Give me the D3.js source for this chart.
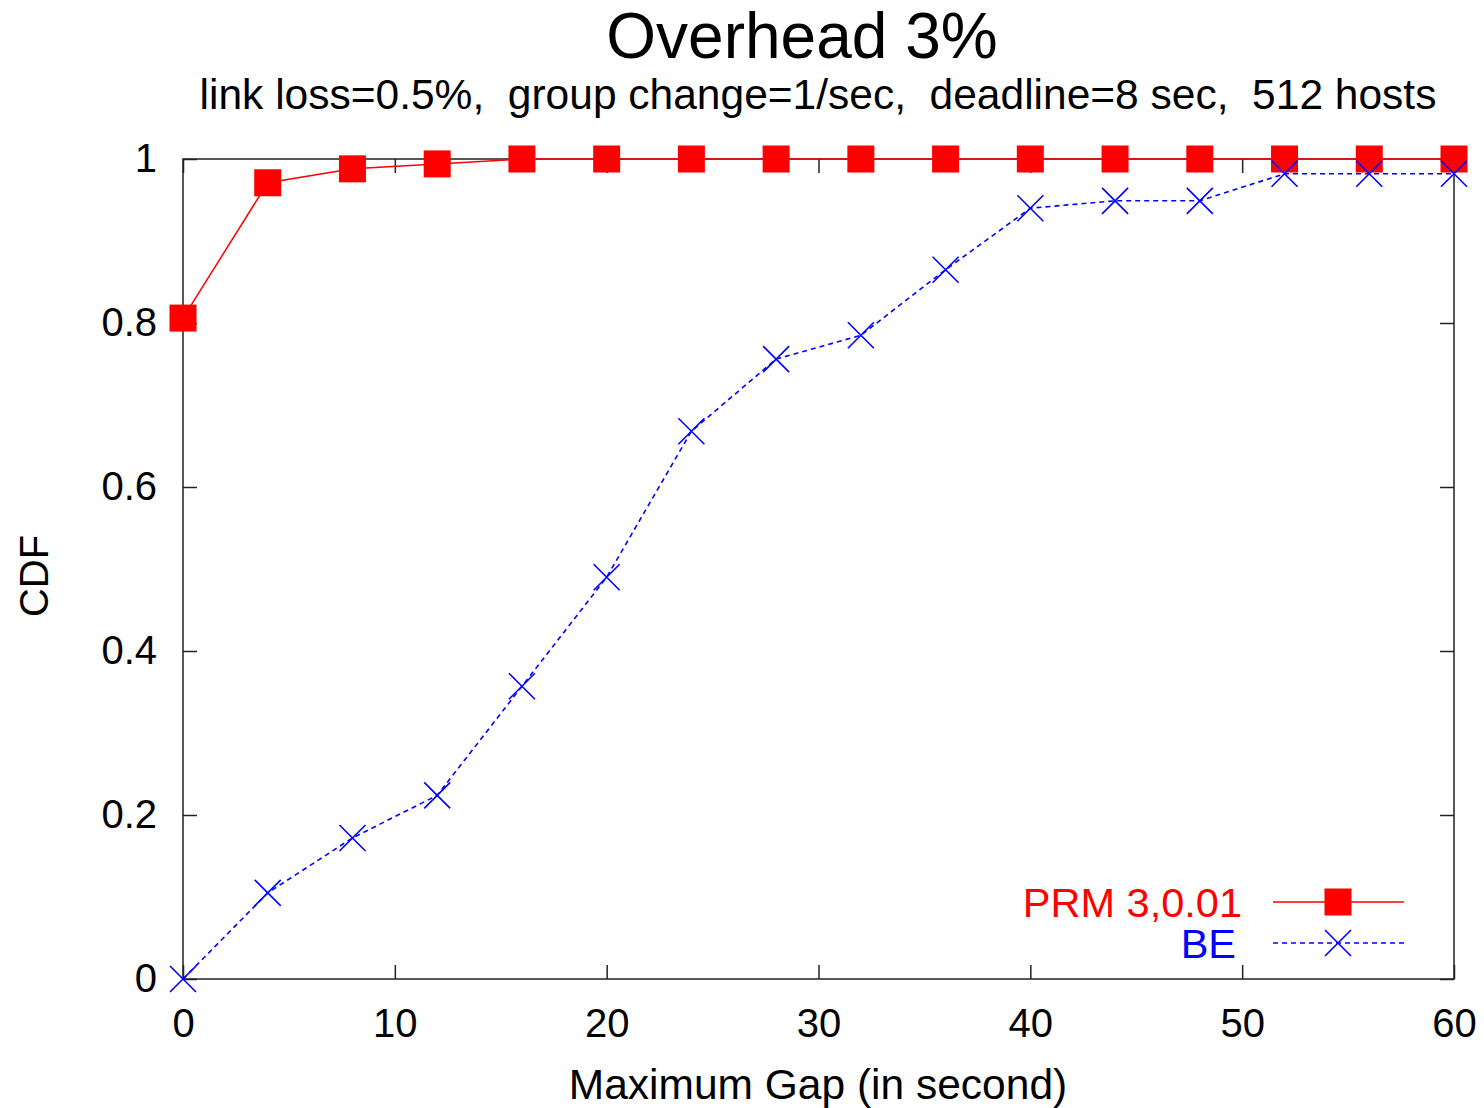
<!DOCTYPE html>
<html>
<head>
<meta charset="utf-8">
<script src="https://cdn.jsdelivr.net/npm/d3@7"></script>
<style>
  body { margin: 0; background: #fff; }
  text { font-family: "Liberation Sans", Arial, sans-serif; }
</style>
</head>
<body>
<div id="chart"></div>
<script>
let width = 1484;
let height = 1108;
let margin = { top: 159, bottom: 129, left: 183, right: 30 };

// chart data
const gapValues = [0, 4, 8, 12, 16, 20, 24, 28, 32, 36, 40, 44, 48, 52, 56, 60];
const prmValues = [0.806, 0.971, 0.988, 0.994, 1, 1, 1, 1, 1, 1, 1, 1, 1, 1, 1, 1];
const beValues = [0, 0.105, 0.172, 0.224, 0.357, 0.49, 0.668, 0.756, 0.785, 0.865, 0.94, 0.949, 0.949, 0.982, 0.982, 0.982];
const xTicks = [0, 10, 20, 30, 40, 50, 60];
const yTicks = [0, 0.2, 0.4, 0.6, 0.8, 1];
const yTickLabels = ["0", "0.2", "0.4", "0.6", "0.8", "1"];
const seriesNames = ["PRM 3,0.01", "BE"];

let svg = d3
  .select("#chart")
  .append("svg")
  .attr("width", width)
  .attr("height", height)
  .style("background", "white");

let x = d3.scaleLinear().domain([0, 60]).range([margin.left, width - margin.right]);
let y = d3.scaleLinear().domain([0, 1]).range([height - margin.bottom, margin.top]);

const frameColor = "#222";

// inward ticks on all four sides
svg.append("g")
  .attr("transform", `translate(0,${y(0)})`)
  .call(d3.axisBottom(x).tickValues(xTicks).tickSize(-14).tickPadding(30).tickFormat(d3.format("d")))
  .call((g) => g.select(".domain").remove());
svg.append("g")
  .attr("transform", `translate(0,${y(1)})`)
  .call(d3.axisTop(x).tickValues(xTicks).tickSize(-14).tickFormat(""))
  .call((g) => g.select(".domain").remove());
svg.append("g")
  .attr("transform", `translate(${x(0)},0)`)
  .call(d3.axisLeft(y).tickValues(yTicks).tickSize(-14).tickPadding(26).tickFormat((d, i) => yTickLabels[i]))
  .call((g) => g.select(".domain").remove());
svg.append("g")
  .attr("transform", `translate(${x(60)},0)`)
  .call(d3.axisRight(y).tickValues(yTicks).tickSize(-14).tickFormat(""))
  .call((g) => g.select(".domain").remove());

svg.selectAll(".tick line").attr("stroke", frameColor).attr("stroke-width", 1.5);
svg.selectAll(".tick text")
  .attr("fill", "#000")
  .style("font-size", "40px")
  .style("font-family", "'Liberation Sans', Arial, sans-serif");

svg.append("rect")
  .attr("x", x(0))
  .attr("y", y(1))
  .attr("width", x(60) - x(0))
  .attr("height", y(0) - y(1))
  .attr("fill", "none")
  .attr("stroke", frameColor)
  .attr("stroke-width", 1.5);

// lines
let prmData = gapValues.map((g, i) => [g, prmValues[i]]);
let beData = gapValues.map((g, i) => [g, beValues[i]]);
let line = d3.line().x((d) => x(d[0])).y((d) => y(d[1]));

svg.append("path")
  .datum(beData)
  .attr("d", line)
  .attr("fill", "none")
  .attr("stroke", "#0000ff")
  .attr("stroke-width", 1.6)
  .attr("stroke-dasharray", "5,4");

svg.append("path")
  .datum(prmData)
  .attr("d", line)
  .attr("fill", "none")
  .attr("stroke", "#ff0000")
  .attr("stroke-width", 1.5);

const sq = 27;
const cross = 13;

function drawSquare(sel, cx, cy) {
  sel.append("rect")
    .attr("x", cx - sq / 2)
    .attr("y", cy - sq / 2)
    .attr("width", sq)
    .attr("height", sq)
    .attr("fill", "#ff0000");
}
function drawCross(sel, cx, cy) {
  sel.append("path")
    .attr("d", `M${cx - cross},${cy - cross}L${cx + cross},${cy + cross}M${cx - cross},${cy + cross}L${cx + cross},${cy - cross}`)
    .attr("stroke", "#0000ff")
    .attr("stroke-width", 1.6)
    .attr("fill", "none");
}

let prmMarks = svg.append("g");
prmData.forEach((d) => drawSquare(prmMarks, x(d[0]), y(d[1])));
let beMarks = svg.append("g");
beData.forEach((d) => drawCross(beMarks, x(d[0]), y(d[1])));

// legend
let legend = svg.append("g");
const legendY = [902, 943];
const legendTextX = [1242, 1236];
const legendColors = ["#ff0000", "#0000ff"];
seriesNames.forEach((name, i) => {
  legend.append("text")
    .attr("x", legendTextX[i])
    .attr("y", legendY[i] + 15)
    .attr("text-anchor", "end")
    .attr("fill", legendColors[i])
    .style("font-size", "41.5px")
    .text(name);
  legend.append("line")
    .attr("x1", 1273)
    .attr("x2", 1404)
    .attr("y1", legendY[i])
    .attr("y2", legendY[i])
    .attr("stroke", legendColors[i])
    .attr("stroke-width", 1.6)
    .attr("stroke-dasharray", i === 1 ? "5,4" : null);
  if (i === 0) drawSquare(legend, 1338, legendY[i]);
  else drawCross(legend, 1338, legendY[i]);
});

// titles
svg.append("text")
  .attr("x", 802)
  .attr("y", 58)
  .attr("text-anchor", "middle")
  .style("font-size", "64px")
  .text("Overhead 3%");

svg.append("text")
  .attr("x", 818)
  .attr("y", 109)
  .attr("text-anchor", "middle")
  .style("font-size", "42.5px")
  .style("white-space", "pre")
  .attr("xml:space", "preserve")
  .text("link loss=0.5%,  group change=1/sec,  deadline=8 sec,  512 hosts");

svg.append("text")
  .attr("x", 818)
  .attr("y", 1099)
  .attr("text-anchor", "middle")
  .style("font-size", "42.5px")
  .text("Maximum Gap (in second)");

svg.append("text")
  .attr("transform", "translate(48,576) rotate(-90)")
  .attr("text-anchor", "middle")
  .style("font-size", "40px")
  .text("CDF");
</script>
</body>
</html>
